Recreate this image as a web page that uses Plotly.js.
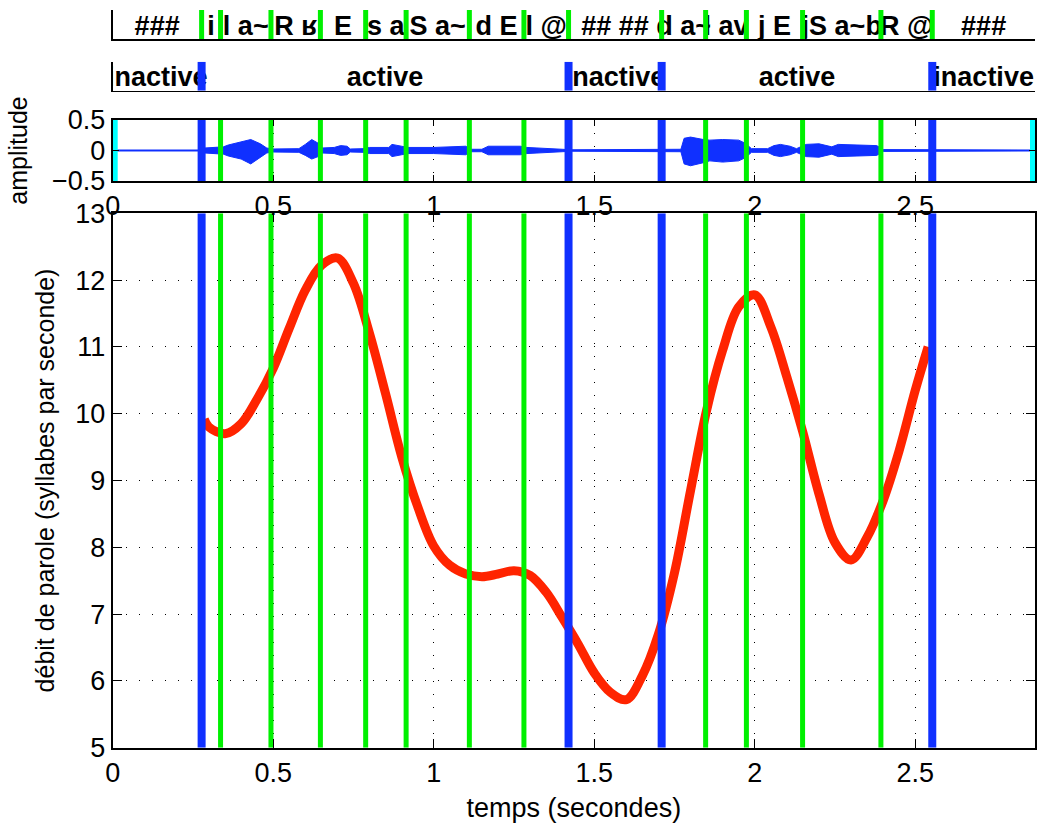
<!DOCTYPE html>
<html>
<head>
<meta charset="utf-8">
<script src="https://cdn.plot.ly/plotly-3.0.1.min.js"></script>
<style>html,body{margin:0;padding:0;background:#fff;}#chart{width:1037px;height:823px;}</style>
</head>
<body>
<div id="chart"></div>
<script>
// ---------------- data ----------------
const T_END = 2.873;
const phaseBounds = [0.277, 1.420, 1.710, 2.553];
const syllBounds = [0.336, 0.493, 0.647, 0.788, 0.914, 1.111, 1.281, 1.847, 1.974, 2.149, 2.393];
const phaseLabels = ["inactive", "active", "inactive", "active", "inactive"];
const phonemeLabels = ["###", "i", "l a~", "R ʁ", "E", "s a", "S a~", "d E", "l @",
                       "## ##", "d a~", "l av", "j E", "jS a~b", "R @", "###"];

const rateTime  = [0.285, 0.30, 0.35, 0.40, 0.45, 0.50, 0.55, 0.60, 0.65, 0.70, 0.75, 0.80, 0.85, 0.90, 0.95,
                   1.00, 1.05, 1.10, 1.15, 1.20, 1.25, 1.30, 1.35, 1.40, 1.45, 1.50, 1.55, 1.60, 1.65, 1.70,
                   1.75, 1.80, 1.85, 1.90, 1.95, 2.00, 2.05, 2.10, 2.15, 2.20, 2.25, 2.30, 2.35, 2.40, 2.45,
                   2.50, 2.54];
const rateValue = [9.92, 9.80, 9.70, 9.85, 10.22, 10.68, 11.28, 11.85, 12.22, 12.33, 11.95, 11.2, 10.3, 9.36, 8.61,
                   8.02, 7.73, 7.6, 7.56, 7.6, 7.65, 7.58, 7.33, 6.95, 6.55, 6.12, 5.83, 5.72, 6.08, 6.7,
                   7.62, 8.85, 10.05, 10.95, 11.6, 11.78, 11.3, 10.55, 9.72, 8.8, 8.07, 7.81, 8.15, 8.7, 9.45,
                   10.35, 11.0];

const envTime  = [0.00, 0.27, 0.285, 0.32, 0.345, 0.36, 0.40, 0.43, 0.46, 0.48, 0.50, 0.58, 0.60, 0.62, 0.64, 0.65,
                  0.69, 0.71, 0.73, 0.74, 0.78, 0.80, 0.86, 0.87, 0.90, 0.92, 1.00, 1.05, 1.10, 1.115, 1.15, 1.17,
                  1.27, 1.29, 1.35, 1.40, 1.43, 1.70, 1.77, 1.78, 1.80, 1.84, 1.86, 1.90, 1.95, 1.97, 1.99, 2.04,
                  2.06, 2.08, 2.11, 2.13, 2.16, 2.20, 2.24, 2.26, 2.32, 2.38, 2.40, 2.55, 2.873];
const envUpper = [0.008, 0.008, 0.04, 0.05, 0.06, 0.09, 0.14, 0.18, 0.11, 0.04, 0.025, 0.03, 0.10, 0.18, 0.12, 0.04,
                  0.05, 0.08, 0.07, 0.025, 0.03, 0.05, 0.05, 0.10, 0.07, 0.05, 0.05, 0.06, 0.07, 0.02, 0.02, 0.07,
                  0.07, 0.05, 0.04, 0.02, 0.012, 0.012, 0.02, 0.20, 0.22, 0.18, 0.17, 0.18, 0.17, 0.12, 0.03, 0.03,
                  0.08, 0.10, 0.07, 0.03, 0.10, 0.11, 0.06, 0.10, 0.09, 0.08, 0.015, 0.012, 0.008];
const envLower = [-0.008, -0.008, -0.04, -0.05, -0.06, -0.09, -0.14, -0.22, -0.12, -0.04, -0.025, -0.03, -0.08, -0.14, -0.10, -0.04,
                  -0.05, -0.08, -0.07, -0.025, -0.03, -0.05, -0.05, -0.10, -0.07, -0.05, -0.05, -0.06, -0.07, -0.02, -0.02, -0.07,
                  -0.07, -0.05, -0.04, -0.02, -0.012, -0.012, -0.02, -0.22, -0.25, -0.20, -0.17, -0.19, -0.17, -0.12, -0.03, -0.03,
                  -0.08, -0.10, -0.07, -0.03, -0.10, -0.11, -0.06, -0.10, -0.09, -0.08, -0.015, -0.012, -0.008];

const timeTicks = [0, 0.5, 1, 1.5, 2, 2.5];
const rateTicks = [5, 6, 7, 8, 9, 10, 11, 12, 13];
const ampTicks = [-0.5, 0, 0.5];

// ---------------- styles ----------------
const BLUE = 'rgb(16,48,255)', GREEN = 'rgb(0,240,0)', RED = 'rgb(255,36,0)', CYAN = 'rgb(0,255,255)';
const FONT = 'Liberation Sans, Arial, Helvetica, sans-serif';
const W = 1037, H = 823;
const xDom = [112.7 / W, 1035 / W];
const pdom = (top, bot) => [1 - bot / H, 1 - top / H];

const traces = [];
function vline(x, xa, ya, yr, color, width) {
  traces.push({type: 'scatter', mode: 'lines', x: [x, x], y: yr, xaxis: xa, yaxis: ya,
    line: {color: color, width: width}, hoverinfo: 'skip', showlegend: false});
}
function centers(bounds) {
  const b = [0].concat(bounds, [T_END]);
  const c = [];
  for (let i = 0; i < b.length - 1; i++) c.push((b[i] + b[i + 1]) / 2);
  return c;
}
const allBounds = phaseBounds.concat(syllBounds).sort((a, b) => a - b);

// main plot
traces.push({type: 'scatter', mode: 'lines', x: rateTime, y: rateValue, xaxis: 'x', yaxis: 'y',
  line: {color: RED, width: 9, shape: 'spline', smoothing: 1}, showlegend: false});
syllBounds.forEach(b => vline(b, 'x', 'y', [5, 13], GREEN, 5));
phaseBounds.forEach(b => vline(b, 'x', 'y', [5, 13], BLUE, 8));

// waveform
traces.push({type: 'scatter', mode: 'lines', x: envTime, y: envUpper, xaxis: 'x2', yaxis: 'y2',
  line: {color: BLUE, width: 1}, showlegend: false});
traces.push({type: 'scatter', mode: 'lines', x: envTime, y: envLower, xaxis: 'x2', yaxis: 'y2',
  line: {color: BLUE, width: 1}, fill: 'tonexty', fillcolor: BLUE, showlegend: false});
syllBounds.forEach(b => vline(b, 'x2', 'y2', [-0.5, 0.5], GREEN, 5));
phaseBounds.forEach(b => vline(b, 'x2', 'y2', [-0.5, 0.5], BLUE, 8));
vline(0, 'x2', 'y2', [-0.5, 0.5], CYAN, 10);
vline(T_END, 'x2', 'y2', [-0.5, 0.5], CYAN, 10);

// phase strip
traces.push({type: 'scatter', mode: 'text', x: centers(phaseBounds), y: phaseLabels.map(() => 0.4),
  text: phaseLabels, textposition: 'middle center', xaxis: 'x3', yaxis: 'y3',
  textfont: {family: FONT, size: 27, color: '#000', weight: 700}, showlegend: false, cliponaxis: true});
phaseBounds.forEach(b => vline(b, 'x3', 'y3', [0, 1], BLUE, 8));

// phoneme strip
traces.push({type: 'scatter', mode: 'text', x: centers(allBounds), y: phonemeLabels.map(() => 0.36),
  text: phonemeLabels, textposition: 'middle center', xaxis: 'x4', yaxis: 'y4',
  textfont: {family: FONT, size: 27, color: '#000', weight: 700}, showlegend: false, cliponaxis: true});
allBounds.forEach(b => vline(b, 'x4', 'y4', [0, 1], GREEN, 5));

// ---------------- layout ----------------
const tickFont = {family: FONT, size: 27, color: '#000'};
const gridStyle = {showgrid: true, gridcolor: '#000', gridwidth: 1, griddash: '1px,12px'};
const boxAxis = {showline: true, linecolor: '#000', linewidth: 2, mirror: 'ticks', ticks: 'inside',
  tickcolor: '#000', tickwidth: 1, zeroline: false, automargin: false, tickfont: tickFont};
const stripAxis = {showline: true, linecolor: '#000', linewidth: 1.5, mirror: false, ticks: '',
  showticklabels: false, showgrid: false, zeroline: false, automargin: false};

const layout = {
  width: W, height: H,
  margin: {l: 0, r: 0, t: 0, b: 0},
  paper_bgcolor: '#fff', plot_bgcolor: 'rgba(0,0,0,0)',
  showlegend: false,
  font: {family: FONT, color: '#000'},
  xaxis: Object.assign({}, boxAxis, gridStyle, {domain: xDom, anchor: 'y', range: [0, T_END],
    tickvals: timeTicks, ticklen: 9,
    title: {text: 'temps (secondes)', font: {family: FONT, size: 27, color: '#000'}, standoff: 11}}),
  yaxis: Object.assign({}, boxAxis, gridStyle, {domain: pdom(213.3, 747.7), anchor: 'x', range: [5, 13],
    tickvals: rateTicks, ticklen: 9,
    title: {text: 'débit de parole (syllabes par seconde)', font: {family: FONT, size: 25, color: '#000'}, standoff: 14}}),
  xaxis2: Object.assign({}, boxAxis, gridStyle, {domain: xDom, anchor: 'y2', range: [0, T_END],
    tickvals: timeTicks, ticklen: 6}),
  yaxis2: Object.assign({}, boxAxis, gridStyle, {domain: pdom(120, 181), anchor: 'x2', range: [-0.5, 0.5],
    tickvals: ampTicks, ticklen: 6,
    title: {text: 'amplitude', font: {family: FONT, size: 25, color: '#000'}, standoff: 17}}),
  xaxis3: Object.assign({}, stripAxis, {domain: xDom, anchor: 'y3', range: [0, T_END]}),
  yaxis3: Object.assign({}, stripAxis, {domain: pdom(61.7, 90.7), anchor: 'x3', range: [0, 1]}),
  xaxis4: Object.assign({}, stripAxis, {domain: xDom, anchor: 'y4', range: [0, T_END]}),
  yaxis4: Object.assign({}, stripAxis, {domain: pdom(10, 39), anchor: 'x4', range: [0, 1]})
};

Plotly.newPlot('chart', traces, layout, {staticPlot: true, displayModeBar: false});
</script>
</body>
</html>
